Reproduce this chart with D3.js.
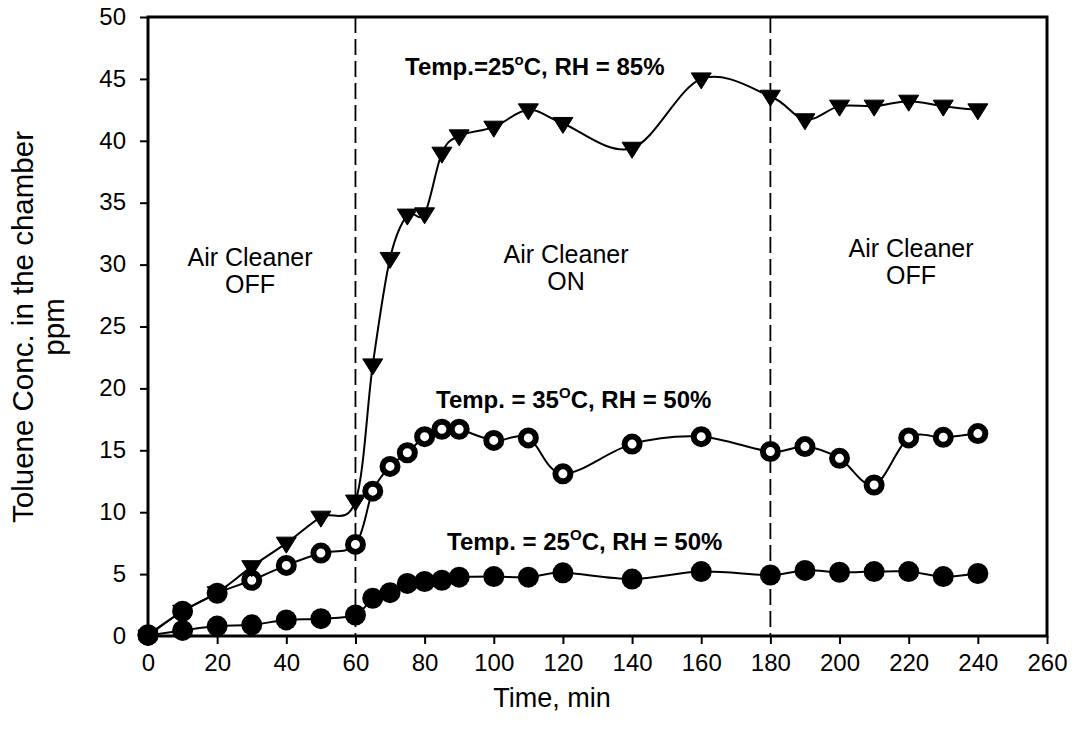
<!DOCTYPE html>
<html>
<head>
<meta charset="utf-8">
<script src="https://cdn.jsdelivr.net/npm/d3@7"></script>
<style>
  html, body { margin: 0; padding: 0; background: #fff; }
  svg { display: block; font-family: "Liberation Sans", Arial, sans-serif; }
</style>
</head>
<body>
<svg id="chart" width="1075" height="744"></svg>
<script>
// ---- data ----
const times = [0,10,20,30,40,50,60,65,70,75,80,85,90,100,110,120,140,160,180,190,200,210,220,230,240];
const rh85_25C = [0,2.0,3.5,5.6,7.5,9.6,10.9,21.9,30.5,34.0,34.1,39.0,40.4,41.1,42.5,41.4,39.4,45.0,43.6,41.7,42.8,42.8,43.2,42.8,42.5];
const rh50_35C = [0.1,2.0,3.45,4.5,5.7,6.7,7.4,11.7,13.7,14.8,16.1,16.7,16.7,15.8,16.0,13.1,15.5,16.1,14.9,15.3,14.35,12.2,16.0,16.05,16.35];
const rh50_25C = [0.05,0.45,0.8,0.9,1.3,1.4,1.7,3.05,3.5,4.25,4.4,4.5,4.75,4.8,4.75,5.1,4.6,5.2,4.93,5.3,5.15,5.2,5.2,4.8,5.05];
const xTicks = [0,20,40,60,80,100,120,140,160,180,200,220,240,260];
const yTicks = [0,5,10,15,20,25,30,35,40,45,50];
const switchTimes = [60,180];

// ---- layout ----
const svg = d3.select("#chart");
const L = 148, T = 17, R = 1047, B = 636;
const x = d3.scaleLinear().domain([0,260]).range([L,R]);
const y = d3.scaleLinear().domain([0,50]).range([B,T]);

// axes
const xAxis = svg.append("g").attr("transform",`translate(0,${B})`)
  .call(d3.axisBottom(x).tickValues(xTicks).tickSize(8).tickPadding(10).tickSizeOuter(0));
const yAxis = svg.append("g").attr("transform",`translate(${L},0)`)
  .call(d3.axisLeft(y).tickValues(yTicks).tickSize(8).tickPadding(14).tickSizeOuter(0));
[xAxis,yAxis].forEach(a=>{
  a.select(".domain").remove();
  a.selectAll("line").attr("stroke","#000").attr("stroke-width",2);
  a.selectAll("text").attr("font-size",24).attr("fill","#000")
    .attr("font-family",'"Liberation Sans", Arial, sans-serif');
});
yAxis.selectAll("text").attr("dy","0.3em");

// frame
svg.append("rect").attr("x",L).attr("y",T).attr("width",R-L).attr("height",B-T)
  .attr("fill","none").attr("stroke","#000").attr("stroke-width",3);

// dashed lines
svg.selectAll(".sw").data(switchTimes).enter().append("line")
  .attr("x1",d=>x(d)).attr("x2",d=>x(d)).attr("y1",T).attr("y2",B)
  .attr("stroke","#000").attr("stroke-width",1.8).attr("stroke-dasharray","16,6");

// lines
const line = vals => d3.line().curve(d3.curveCatmullRom.alpha(0))
  .x((d,i)=>x(times[i])).y(d=>y(d))(vals);
[rh50_25C, rh50_35C, rh85_25C].forEach(v=>{
  svg.append("path").attr("d",line(v)).attr("fill","none").attr("stroke","#000").attr("stroke-width",2);
});

// markers
svg.append("g").selectAll("circle").data(rh50_25C).enter().append("circle")
  .attr("cx",(d,i)=>x(times[i])).attr("cy",d=>y(d)).attr("r",10.5).attr("fill","#000");
svg.append("g").selectAll("circle").data(rh50_35C).enter().append("circle")
  .attr("cx",(d,i)=>x(times[i])).attr("cy",d=>y(d)).attr("r",7.5)
  .attr("fill","#fff").attr("stroke","#000").attr("stroke-width",6);
svg.append("g").selectAll("path").data(rh85_25C).enter().append("path")
  .attr("transform",(d,i)=>`translate(${x(times[i])},${y(d)})`)
  .attr("d","M-10,-6L10,-6L0,10Z").attr("fill","#000").attr("stroke","#000").attr("stroke-width",1);

// axis titles
svg.append("text").attr("x",552).attr("y",707).attr("text-anchor","middle")
  .attr("font-size",27).text("Time, min");
const yl = svg.append("text").attr("transform","translate(33,327) rotate(-90)")
  .attr("text-anchor","middle").attr("font-size",29.5);
yl.append("tspan").attr("x",0).attr("y",0).text("Toluene Conc. in the chamber");
yl.append("tspan").attr("x",0).attr("y",31).text("ppm");

// region labels
const regions = [
  {cx:250, y:266, l1:"Air Cleaner", l2:"OFF"},
  {cx:566, y:263, l1:"Air Cleaner", l2:"ON"},
  {cx:911, y:257, l1:"Air Cleaner", l2:"OFF"}
];
regions.forEach(r=>{
  const t = svg.append("text").attr("text-anchor","middle").attr("font-size",25);
  t.append("tspan").attr("x",r.cx).attr("y",r.y).text(r.l1);
  t.append("tspan").attr("x",r.cx).attr("y",r.y+27).text(r.l2);
});

// series annotations
function ann(xp, yp, pre, sup, post){
  const t = svg.append("text").attr("x",xp).attr("y",yp).attr("font-size",24).attr("font-weight","bold");
  t.append("tspan").text(pre);
  t.append("tspan").attr("dy",-10).attr("font-size",15).text(sup);
  t.append("tspan").attr("dy",10).text(post);
}
ann(405, 75, "Temp.=25", "o", "C, RH = 85%");
ann(436, 408, "Temp. = 35", "O", "C, RH = 50%");
ann(447, 550, "Temp. = 25", "O", "C, RH = 50%");
</script>
</body>
</html>
